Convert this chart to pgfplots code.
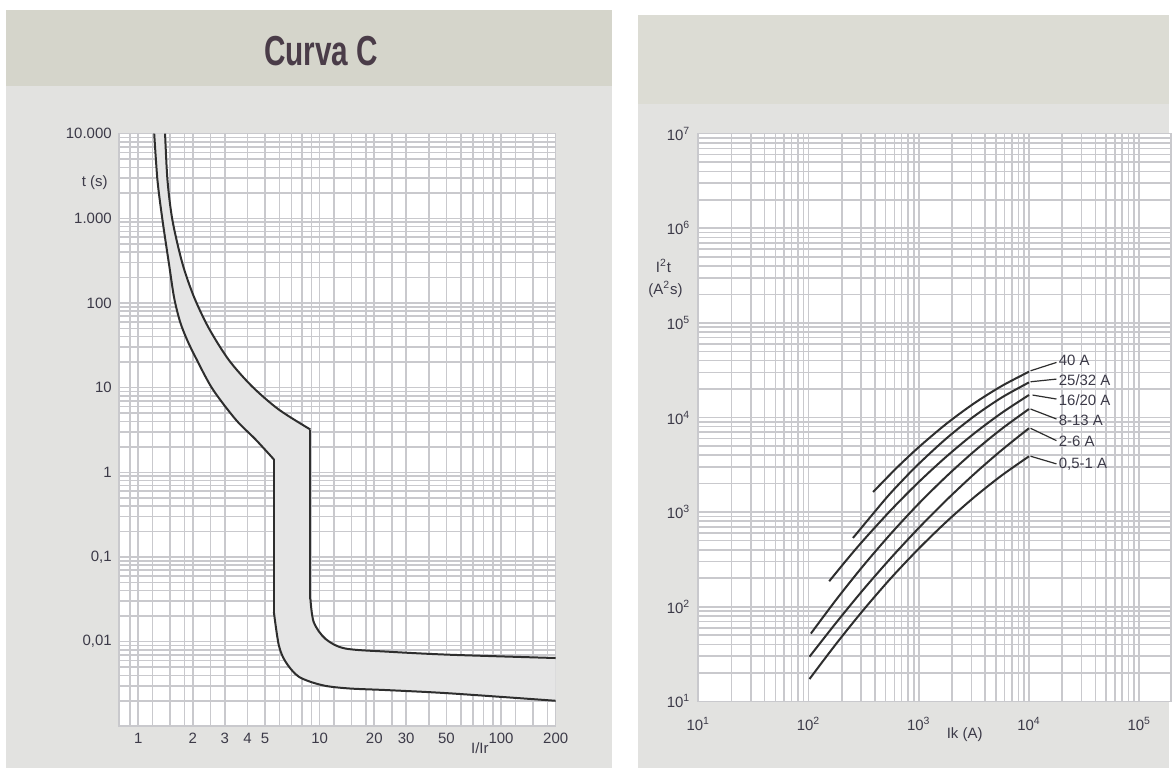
\documentclass[border=0pt]{standalone}
\usepackage{pgfplots}
\pgfplotsset{compat=1.18}
\usepackage{graphicx}
\usepackage{fontspec}
\setmainfont{Liberation Sans}
\definecolor{panel}{HTML}{E2E2E0}
\definecolor{bandL}{HTML}{D5D5CB}
\definecolor{bandR}{HTML}{DCDCD4}
\definecolor{gridc}{HTML}{C9C9CD}
\definecolor{txt}{HTML}{3C3A48}
\definecolor{fillc}{HTML}{E5E5E5}
\definecolor{curve}{HTML}{2E2E2E}
\definecolor{titlec}{HTML}{4A3C48}
\begin{document}
\begin{tikzpicture}
\begin{scope}[x=0.5pt,y=-0.5pt]
\useasboundingbox (0,0) rectangle (1172,770);
\fill[white] (0,0) rectangle (1172,770);
\fill[panel] (6,10) rectangle (613,770);
\fill[bandL] (6,10) rectangle (613,86);
\node[anchor=base, text=titlec, inner sep=0pt] at (322,66) {\scalebox{0.71}[1]{\fontsize{21}{21}\selectfont\bfseries Curva C}};
\fill[panel] (640,15) rectangle (1172,770);
\fill[bandR] (640,15) rectangle (1172,104);
\end{scope}

% ---------- left chart
\begin{axis}[at={(59.5pt,-364pt)}, anchor=south west, scale only axis, width=219pt, height=297pt,
 xmode=log, ymode=log, grid=both,
 major grid style={gridc, line width=0.8pt},
 minor grid style={gridc, line width=0.8pt},
 axis line style={gridc, line width=0.8pt},
 major tick length=0pt, minor tick length=0pt,
 tick label style={font=\fontsize{7.5}{8}\selectfont, text=txt},
 axis background/.style={fill=white},
 xmin=0.78, xmax=200, ymin=0.001, ymax=10000,
 xtick={1,2,3,4,5,10,20,30,50,100,200},
 xticklabels={1,2,3,4,5,10,20,30,50,100,200},
 minor xtick={0.9,1.2,1.5,1.8,2.5,6,7,8,9,12,15,18,25,40,60,70,80,90,120,150,180},
 ytick={0.001,0.01,0.1,1,10,100,1000,10000},
 yticklabels={,{0,01},{0,1},1,10,100,{1.000},{10.000}},
 minor ytick={0.002,0.003,0.004,0.005,0.006,0.007,0.008,0.009,
  0.02,0.03,0.04,0.05,0.06,0.07,0.08,0.09,
  0.2,0.3,0.4,0.5,0.6,0.7,0.8,0.9,
  2,3,4,5,6,7,8,9,20,30,40,50,60,70,80,90,
  200,300,400,500,600,700,800,900,2000,3000,4000,5000,6000,7000,8000,9000},
]
% band between the two limits
\addplot[fill=fillc, draw=none] coordinates {
 (1.405,10000) (1.449,2800) (1.543,947) (1.751,293) (2.031,117) (2.455,49.9) (3.162,21.1)
 (4.246,10.3) (5.953,5.51) (8.89,3.2) (8.89,0.032) (9.27,0.017) (10.75,0.0108)
 (13.8,0.0083) (23.9,0.0076) (52,0.0070) (200,0.0064)
 (200,0.0020) (52,0.00245) (23.9,0.00267) (14.4,0.0028) (10.3,0.00306)
 (7.67,0.00385) (6.48,0.0058) (5.95,0.0091) (5.59,0.0224) (5.59,1.42)
 (4.434,2.44) (3.443,4.2) (2.56,9.73) (2.075,22.5) (1.858,36.7) (1.701,59.7) (1.577,114.5)
 (1.48,280) (1.36,947) (1.276,2800) (1.224,10000) (1.405,10000)};
% upper limit
\addplot[curve, line width=1pt, smooth] coordinates {
 (1.405,10000) (1.449,2800) (1.543,947) (1.751,293) (2.031,117) (2.455,49.9) (3.162,21.1)
 (4.246,10.3) (5.953,5.51) (8.89,3.2)};
\addplot[curve, line width=1pt] coordinates {(8.89,3.2) (8.89,0.032)};
\addplot[curve, line width=1pt, smooth] coordinates {
 (8.89,0.032) (9.27,0.017) (10.75,0.0108) (13.8,0.0083) (23.9,0.0076) (52,0.0070) (200,0.0064)};
% lower limit
\addplot[curve, line width=1pt, smooth] coordinates {
 (1.224,10000) (1.276,2800) (1.36,947) (1.48,280) (1.577,114.5) (1.701,59.7) (1.858,36.7)
 (2.075,22.5) (2.56,9.73) (3.443,4.2) (4.434,2.44) (5.59,1.42)};
\addplot[curve, line width=1pt] coordinates {(5.59,1.42) (5.59,0.0224)};
\addplot[curve, line width=1pt, smooth] coordinates {
 (5.59,0.0224) (5.95,0.0091) (6.48,0.0058) (7.67,0.00385) (10.3,0.00306)
 (14.4,0.0028) (23.9,0.00267) (52,0.00245) (200,0.0020)};
\end{axis}

% ---------- right chart
\begin{axis}[at={(349.5pt,-351.5pt)}, anchor=south west, scale only axis, width=237.5pt, height=284.5pt,
 xmode=log, ymode=log, grid=both,
 major grid style={gridc, line width=0.8pt},
 minor grid style={gridc, line width=0.8pt},
 axis line style={gridc, line width=0.8pt},
 major tick length=0pt, minor tick length=0pt,
 tick label style={font=\fontsize{7.5}{8}\selectfont, text=txt},
 xticklabel style={yshift=-4.5pt},
 axis background/.style={fill=white},
 xmin=9.8, xmax=195000, ymin=10, ymax=1e7,
 xtick={10,100,1000,10000,100000},
 xticklabels={10\textsuperscript{1},10\textsuperscript{2},10\textsuperscript{3},10\textsuperscript{4},10\textsuperscript{5}},
 minor xtick={20,30,40,50,60,70,80,90,200,300,400,500,600,700,800,900,
  2000,3000,4000,5000,6000,7000,8000,9000,20000,30000,40000,50000,60000,70000,80000,90000},
 ytick={10,100,1000,10000,100000,1000000,10000000},
 yticklabels={10\textsuperscript{1},10\textsuperscript{2},10\textsuperscript{3},10\textsuperscript{4},10\textsuperscript{5},10\textsuperscript{6},10\textsuperscript{7}},
 minor ytick={20,30,40,50,60,70,80,90,200,300,400,500,600,700,800,900,
  2000,3000,4000,5000,6000,7000,8000,9000,20000,30000,40000,50000,60000,70000,80000,90000,
  200000,300000,400000,500000,600000,700000,800000,900000,
  2000000,3000000,4000000,5000000,6000000,7000000,8000000,9000000},
]
% 40 A
\addplot[curve, line width=1pt, smooth] coordinates {(385,1630) (631,2938) (1000,4860) (1778,8570) (3162,14060) (5623,21450) (10000,30500)};
% 25/32 A
\addplot[curve, line width=1pt, smooth] coordinates {(253,533) (501,1386) (708,2149) (1000,3240) (1778,6000) (3162,10260) (5623,16200) (10000,23500)};
% 16/20 A
\addplot[curve, line width=1pt, smooth] coordinates {(154,186) (224,317) (316,507) (562,1057) (1000,2080) (1778,3857) (3162,6745) (5623,11130) (10000,17300)};
% 8-13 A
\addplot[curve, line width=1pt, smooth] coordinates {(105,52) (178,118.5) (316,274) (562,597) (1000,1230) (1778,2382) (3162,4365) (5623,7550) (10000,12300)};
% 2-6 A
\addplot[curve, line width=1pt, smooth] coordinates {(102,29.6) (178,67.7) (316,153) (562,330) (1000,680) (1778,1336) (3162,2510) (5623,4500) (10000,7700)};
% 0,5-1 A
\addplot[curve, line width=1pt, smooth] coordinates {(102,17.2) (178,40.5) (316,93) (562,202) (1000,411) (1778,789) (3162,1427) (5623,2429) (10000,3890)};
\end{axis}

\begin{scope}[x=0.5pt,y=-0.5pt]
\begin{scope}[font=\fontsize{7.5}{8}\selectfont, text=txt]
\node at (95,183) {t (s)};
\node at (481,750) {I/Ir};
\node at (665,267) {I\textsuperscript{2}t};
\node at (667,290) {(A\textsuperscript{2}s)};
\node at (967,736) {Ik (A)};
\end{scope}
\begin{scope}[curve, line width=0.6pt]
\draw (1033,371.7) -- (1059,363.3);
\draw (1033,382.7) -- (1059,380);
\draw (1035,396) -- (1059,400);
\draw (1033,410) -- (1059,420);
\draw (1033,429.3) -- (1059,441.7);
\draw (1033,457.3) -- (1059,465);
\end{scope}
\begin{scope}[font=\fontsize{7.5}{8}\selectfont, text=txt, anchor=west, inner sep=0pt]
\node at (1061,361) {40 A};
\node at (1061,381) {25/32 A};
\node at (1061,401) {16/20 A};
\node at (1061,421) {8-13 A};
\node at (1061,442) {2-6 A};
\node at (1061,465) {0,5-1 A};
\end{scope}
\end{scope}
\end{tikzpicture}
\end{document}
